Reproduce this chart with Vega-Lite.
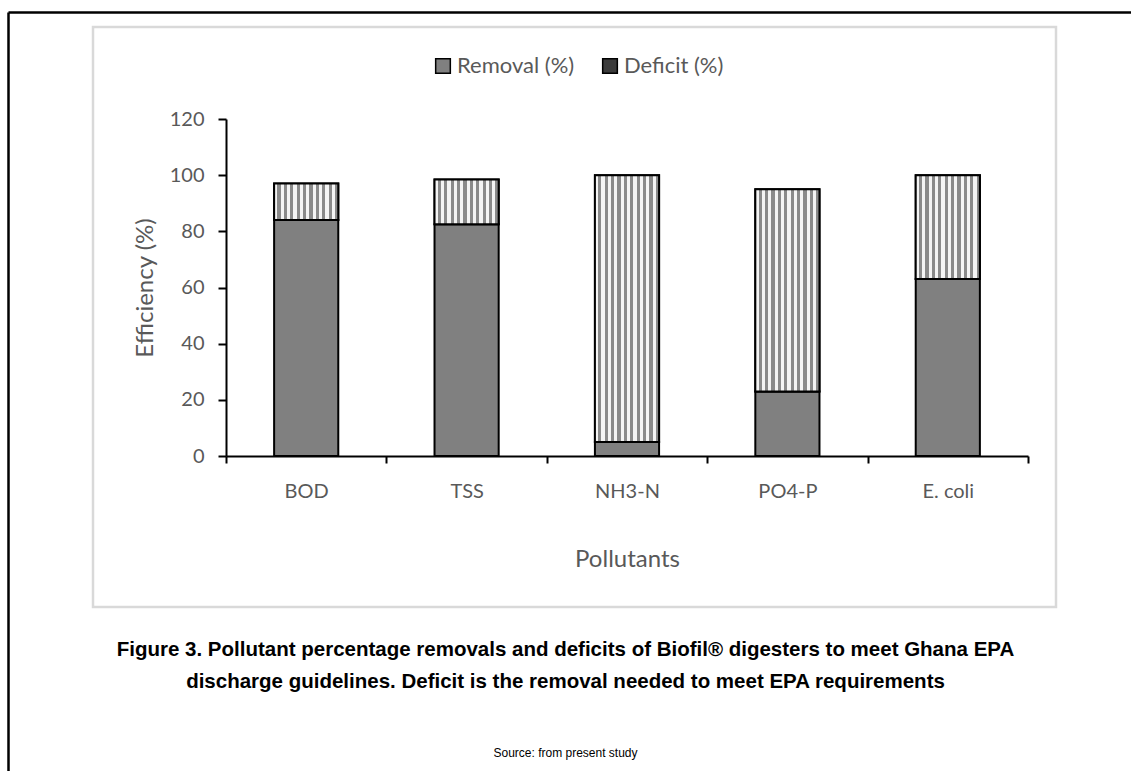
{
  "$schema": "https://vega.github.io/schema/vega-lite/v6.json",
  "width": 963,
  "height": 580,
  "autosize": {"type": "none"},
  "padding": {"left": 93, "top": 27, "right": 75, "bottom": 164},
  "background": "white",
  "config": {
    "view": {"stroke": "#d9d9d9", "strokeWidth": 2.5},
    "font": "Lato",
    "axis": {"grid": false}
  },
  "title": {
    "text": [
      "Figure 3. Pollutant percentage removals and deficits of Biofil® digesters to meet Ghana EPA",
      "discharge guidelines. Deficit is the removal needed to meet EPA requirements"
    ],
    "subtitle": "Source: from present study",
    "orient": "bottom",
    "anchor": "middle",
    "frame": "group",
    "offset": -146,
    "dx": -9,
    "font": "Liberation Sans",
    "fontSize": 20.5,
    "fontWeight": "bold",
    "color": "black",
    "lineHeight": 32,
    "subtitleFont": "Liberation Sans",
    "subtitleFontSize": 12,
    "subtitleColor": "black",
    "subtitlePadding": 55
  },
  "data": {
    "values": [
      {"Pollutant": "BOD", "Component": "Removal (%)", "Value": 84},
      {"Pollutant": "BOD", "Component": "Deficit (%)", "Value": 13},
      {"Pollutant": "TSS", "Component": "Removal (%)", "Value": 82.5},
      {"Pollutant": "TSS", "Component": "Deficit (%)", "Value": 16},
      {"Pollutant": "NH3-N", "Component": "Removal (%)", "Value": 5},
      {"Pollutant": "NH3-N", "Component": "Deficit (%)", "Value": 95},
      {"Pollutant": "PO4-P", "Component": "Removal (%)", "Value": 23},
      {"Pollutant": "PO4-P", "Component": "Deficit (%)", "Value": 72},
      {"Pollutant": "E. coli", "Component": "Removal (%)", "Value": 63},
      {"Pollutant": "E. coli", "Component": "Deficit (%)", "Value": 37}
    ]
  },
  "layer": [
    {
      "mark": {"type": "point", "opacity": 0},
      "encoding": {
        "x": {
          "field": "Value", "type": "quantitative",
          "scale": {"domain": [0, 100], "range": [-85, 1038], "nice": false, "zero": false},
          "axis": {"orient": "top", "offset": 15, "domainColor": "black", "domainWidth": 2.5, "ticks": false, "labels": false, "title": null, "grid": false}
        },
        "y": {
          "field": "Value", "type": "quantitative",
          "scale": {"domain": [0, 100], "range": [744, -15], "nice": false, "zero": false},
          "axis": {"orient": "left", "offset": 85, "domainColor": "black", "domainWidth": 2.5, "ticks": false, "labels": false, "title": null, "grid": false}
        }
      }
    },
    {
      "mark": {"type": "bar", "width": {"band": 0.4}, "stroke": "black", "strokeWidth": 2},
      "encoding": {
        "x": {
          "field": "Pollutant", "type": "nominal", "sort": null,
          "scale": {"range": [133, 935], "paddingInner": 0, "paddingOuter": 0},
          "axis": {
            "orient": "bottom", "offset": -151, "tickBand": "extent",
            "domainColor": "black", "domainWidth": 2, "tickColor": "black", "tickWidth": 2, "tickSize": 7,
            "labelColor": "#595959", "labelFontSize": 20, "labelFont": "Lato", "labelPadding": 18, "labelAngle": 0,
            "title": "Pollutants", "titleColor": "#595959", "titleFontSize": 24, "titleFontWeight": "normal", "titleFont": "Lato",
            "titleY": 103, "titleBaseline": "middle"
          }
        },
        "y": {
          "field": "Value", "type": "quantitative", "stack": "zero",
          "scale": {"domain": [0, 120], "range": [429, 92], "nice": false},
          "axis": {
            "orient": "left", "offset": -133, "values": [0, 20, 40, 60, 80, 100, 120],
            "domainColor": "black", "domainWidth": 2, "tickColor": "black", "tickWidth": 2, "tickSize": 8,
            "labelColor": "#595959", "labelFontSize": 20, "labelFont": "Lato", "labelPadding": 14,
            "title": "Efficiency (%)", "titleColor": "#595959", "titleFontSize": 24, "titleFontWeight": "normal", "titleFont": "Lato",
            "titleX": -81, "titleBaseline": "middle"
          }
        },
        "color": {
          "field": "Component", "type": "nominal",
          "scale": {"domain": ["Removal (%)", "Deficit (%)"], "range": ["#808080", "#3c3c3c"]},
          "legend": {
            "orient": "none", "legendX": 339, "legendY": 28, "direction": "horizontal", "title": null,
            "symbolType": "square", "symbolSize": 215, "symbolStrokeColor": "black", "symbolStrokeWidth": 1.5,
            "labelFontSize": 22, "labelColor": "#595959", "labelFont": "Lato", "columnPadding": 24, "labelOffset": 3, "padding": 0
          }
        },
        "order": {"field": "Component", "sort": "descending"}
      }
    },
    {
      "transform": [
        {"stack": "Value", "groupby": ["Pollutant"], "sort": [{"field": "Component", "order": "descending"}], "as": ["v0", "v1"]},
        {"filter": "datum.Component == 'Deficit (%)'"}
      ],
      "mark": {
        "type": "bar", "width": {"band": 0.4}, "stroke": "black", "strokeWidth": 2,
        "color": {
          "gradient": "linear", "x1": 0, "y1": 0, "x2": 1, "y2": 0,
          "stops": [
            {"offset": 0, "color": "#f4f4f4"}, {"offset": 0.05, "color": "#f4f4f4"}, {"offset": 0.05, "color": "#8a8a8a"}, {"offset": 0.1, "color": "#8a8a8a"},
            {"offset": 0.1, "color": "#f4f4f4"}, {"offset": 0.15, "color": "#f4f4f4"}, {"offset": 0.15, "color": "#8a8a8a"}, {"offset": 0.2, "color": "#8a8a8a"},
            {"offset": 0.2, "color": "#f4f4f4"}, {"offset": 0.25, "color": "#f4f4f4"}, {"offset": 0.25, "color": "#8a8a8a"}, {"offset": 0.3, "color": "#8a8a8a"},
            {"offset": 0.3, "color": "#f4f4f4"}, {"offset": 0.35, "color": "#f4f4f4"}, {"offset": 0.35, "color": "#8a8a8a"}, {"offset": 0.4, "color": "#8a8a8a"},
            {"offset": 0.4, "color": "#f4f4f4"}, {"offset": 0.45, "color": "#f4f4f4"}, {"offset": 0.45, "color": "#8a8a8a"}, {"offset": 0.5, "color": "#8a8a8a"},
            {"offset": 0.5, "color": "#f4f4f4"}, {"offset": 0.55, "color": "#f4f4f4"}, {"offset": 0.55, "color": "#8a8a8a"}, {"offset": 0.6, "color": "#8a8a8a"},
            {"offset": 0.6, "color": "#f4f4f4"}, {"offset": 0.65, "color": "#f4f4f4"}, {"offset": 0.65, "color": "#8a8a8a"}, {"offset": 0.7, "color": "#8a8a8a"},
            {"offset": 0.7, "color": "#f4f4f4"}, {"offset": 0.75, "color": "#f4f4f4"}, {"offset": 0.75, "color": "#8a8a8a"}, {"offset": 0.8, "color": "#8a8a8a"},
            {"offset": 0.8, "color": "#f4f4f4"}, {"offset": 0.85, "color": "#f4f4f4"}, {"offset": 0.85, "color": "#8a8a8a"}, {"offset": 0.9, "color": "#8a8a8a"},
            {"offset": 0.9, "color": "#f4f4f4"}, {"offset": 0.95, "color": "#f4f4f4"}, {"offset": 0.95, "color": "#8a8a8a"}, {"offset": 1, "color": "#8a8a8a"}
          ]
        }
      },
      "encoding": {
        "x": {
          "field": "Pollutant", "type": "nominal", "sort": null,
          "scale": {"range": [133, 935], "paddingInner": 0, "paddingOuter": 0},
          "axis": null
        },
        "y": {
          "field": "v1", "type": "quantitative",
          "scale": {"domain": [0, 120], "range": [429, 92], "nice": false},
          "axis": null
        },
        "y2": {"field": "v0"}
      }
    }
  ],
  "resolve": {
    "scale": {"x": "independent", "y": "independent"},
    "axis": {"x": "independent", "y": "independent"}
  }
}
